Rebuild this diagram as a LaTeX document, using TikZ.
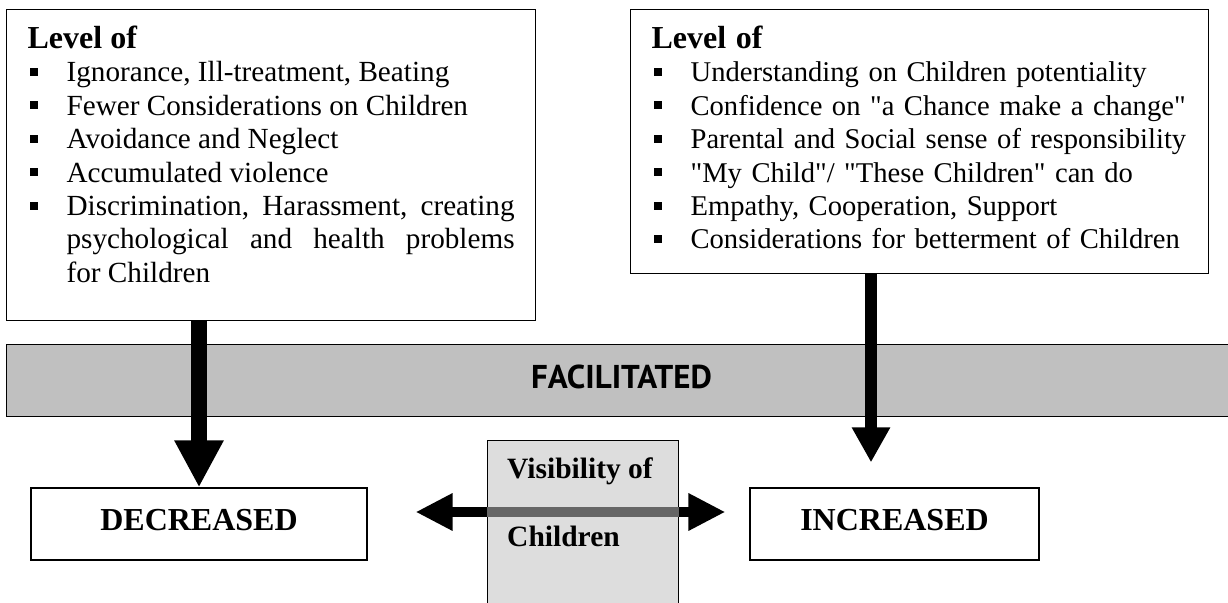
\documentclass[tikz,border=0pt]{standalone}
\usepackage{fontspec}
\setmainfont{Liberation Serif}[Ligatures=TeXOff]
\newfontfamily\bandfont{PT Sans}
\usetikzlibrary{arrows.meta}

\definecolor{bandgray}{HTML}{C0C0C0}
\definecolor{visgray}{HTML}{DDDDDD}
\definecolor{shaftgray}{HTML}{666666}

% square bullets for the two lists
\newcommand{\sqbullet}{\rule[6pt]{8pt}{8pt}}
\newcommand{\levlabel}[1]{\hspace{2pt}#1\hfil}
\newenvironment{levellist}[1][0pt]
  {\begin{list}{\sqbullet}{\setlength{\leftmargin}{39pt}%
    \setlength{\rightmargin}{#1}%
    \setlength{\labelwidth}{39pt}\setlength{\labelsep}{0pt}%
    \setlength{\topsep}{0pt}\setlength{\partopsep}{0pt}%
    \setlength{\itemsep}{0pt}\setlength{\parsep}{0pt}%
    \let\makelabel\levlabel}}
  {\end{list}}
\newcommand{\levelhead}{{\fontsize{32}{35}\selectfont\bfseries Level of\par}}

\begin{document}
\begin{tikzpicture}
[x=1pt,y=-1pt,
  levelbox/.style={draw,line width=1.2pt,anchor=north west,inner xsep=21pt,
    inner ysep=0pt,text height=39pt,font=\fontsize{29.2}{33.4}\selectfont},
  bandbar/.style={draw,line width=1.2pt,fill=bandgray,anchor=north west,
    minimum width=1230pt,minimum height=72pt,text depth=8pt,
    font=\bandfont\fontsize{33}{38}\selectfont\bfseries},
  resultbox/.style={draw,line width=1.2pt,minimum height=72pt,text height=21pt,
    text depth=9pt,font=\fontsize{32}{38}\selectfont\bfseries},
  visbox/.style={draw,line width=1.2pt,fill=visgray,anchor=north west,
    minimum width=191pt,minimum height=200pt,inner sep=0pt},
  vistext/.style={anchor=base west,inner sep=0pt,
    font=\fontsize{29.5}{34}\selectfont\bfseries},
  decarrow/.style={line width=16pt,-{Triangle[length=47pt,width=46pt]}},
  incarrow/.style={line width=12pt,-{Triangle[length=35pt,width=36pt]},
    shorten >=25pt},
  visarrow/.style={line width=10pt,
    {Triangle[length=37pt,width=35pt]}-{Triangle[length=37pt,width=35pt]},
    shorten <=48pt,shorten >=24pt},
  visline/.style={line width=10pt,shaftgray}]
\useasboundingbox (0,0) rectangle (1228,602);
% the two lists
\node (lbox) at (6,9) [levelbox,text width=487pt,text depth=272pt,align=justify] {%
\levelhead
\begin{levellist}
\item Ignorance, Ill-treatment, Beating
\item Fewer Considerations on Children
\item Avoidance and Neglect
\item Accumulated violence
\item Discrimination, Harassment, creating\linebreak
  psychological and health problems\linebreak for Children
\end{levellist}};
\node (rbox) at (630,9) [levelbox,text width=536pt,text depth=225pt,align=left,
  font=\fontsize{28.6}{33.4}\selectfont] {%
\levelhead
\begin{levellist}[-20pt]
\item Understanding on Children potentiality
\item Confidence on "a Chance make a change"
\item Parental and Social sense of responsibility
\item "My Child"/ "These Children" can do
\item Empathy, Cooperation, Support
\item Considerations for betterment of Children
\end{levellist}};
% band
\node (band) at (6,344) [bandbar] {FACILITATED};
% results
\node (dec) at (199,524) [resultbox,minimum width=336pt] {DECREASED};
\node (inc) at (894.5,524) [resultbox,minimum width=289pt] {INCREASED};
\coordinate (incin) at ([xshift=-23.5pt]inc.north);
\coordinate (vismid) at ([yshift=12pt]dec.east);
% arrows
\path
(dec.north |- lbox.south) edge[decarrow] (dec.north)
(incin |- rbox.south) edge[incarrow] (incin)
(vismid) edge[visarrow] (vismid -| inc.west);
% visibility box on top of the double arrow
\node (vis) at (487,440) [visbox] {};
\path (vis.west |- vismid) edge[visline] (vis.east |- vismid);
\node (vistop) at (507,478) [vistext] {Visibility of};
\node (visbot) at (507,546) [vistext] {Children};
\end{tikzpicture}
\end{document}
